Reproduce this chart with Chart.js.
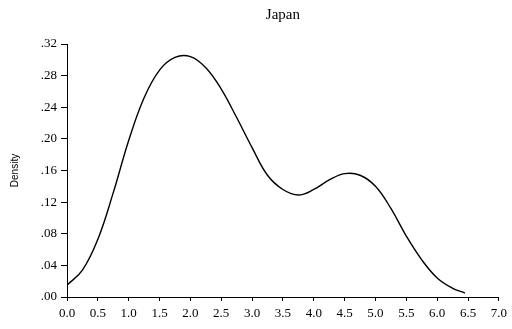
<!DOCTYPE html>
<html>
<head>
<meta charset="utf-8">
<script src="https://cdn.jsdelivr.net/npm/chart.js@4/dist/chart.umd.min.js"></script>
<style>
  body { margin: 0; background: #fff; }
</style>
</head>
<body>
<canvas id="chart" width="512" height="329"></canvas>
<script>
// Kernel density of Japan
const densityX = [0, 0.25, 0.5, 0.75, 1.0, 1.25, 1.5, 1.75, 2.0, 2.25, 2.5, 2.75, 3.0, 3.25, 3.5, 3.75, 4.0, 4.25, 4.5, 4.75, 5.0, 5.25, 5.5, 5.75, 6.0, 6.25, 6.45];
const densityY = [0.015, 0.034, 0.073, 0.132, 0.198, 0.252, 0.287, 0.303, 0.304, 0.290, 0.263, 0.227, 0.189, 0.154, 0.136, 0.129, 0.136, 0.148, 0.156, 0.154, 0.140, 0.112, 0.077, 0.047, 0.024, 0.011, 0.005];

const xTickLabels = ['0.0', '0.5', '1.0', '1.5', '2.0', '2.5', '3.0', '3.5', '4.0', '4.5', '5.0', '5.5', '6.0', '6.5', '7.0'];
const yTickLabels = ['.00', '.04', '.08', '.12', '.16', '.20', '.24', '.28', '.32'];

const points = densityX.map((x, i) => ({ x: x, y: densityY[i] }));

const serif = "'Liberation Serif', 'Times New Roman', serif";

new Chart(document.getElementById('chart'), {
    type: 'line',
    data: {
        datasets: [{
            data: points,
            borderColor: '#000',
            borderWidth: 1.4,
            pointRadius: 0,
            fill: false,
            tension: 0.4
        }]
    },
    options: {
        responsive: false,
        animation: false,
        devicePixelRatio: 1,
        layout: { padding: { left: 0, right: 13, top: 0, bottom: 0 } },
        plugins: {
            legend: { display: false },
            tooltip: { enabled: false },
            title: {
                display: true,
                text: 'Japan',
                fullSize: false,
                color: '#000',
                font: { family: serif, size: 15, weight: 'normal', lineHeight: 1.2 },
                padding: { top: 6, bottom: 20 }
            }
        },
        scales: {
            x: {
                type: 'linear',
                min: 0,
                max: 7,
                afterFit: s => { s.height = 32; },
                border: { display: true, color: '#000', width: 1 },
                grid: { drawOnChartArea: false, drawTicks: true, tickLength: 4, color: '#000' },
                ticks: {
                    stepSize: 0.5,
                    color: '#000',
                    padding: 5,
                    maxRotation: 0,
                    font: { family: serif, size: 13 },
                    callback: (v, i) => xTickLabels[i]
                }
            },
            y: {
                min: 0,
                max: 0.32,
                afterFit: s => { s.width = 67; },
                border: { display: true, color: '#000', width: 1 },
                grid: { drawOnChartArea: false, drawTicks: true, tickLength: 6, color: '#000' },
                ticks: {
                    stepSize: 0.04,
                    color: '#000',
                    padding: 4,
                    font: { family: serif, size: 13 },
                    callback: (v, i) => yTickLabels[i]
                },
                title: {
                    display: true,
                    text: 'Density',
                    color: '#000',
                    font: { family: "'Liberation Sans', Arial, sans-serif", size: 10 },
                    padding: { top: 9, bottom: 0 }
                }
            }
        }
    }
});
</script>
</body>
</html>
